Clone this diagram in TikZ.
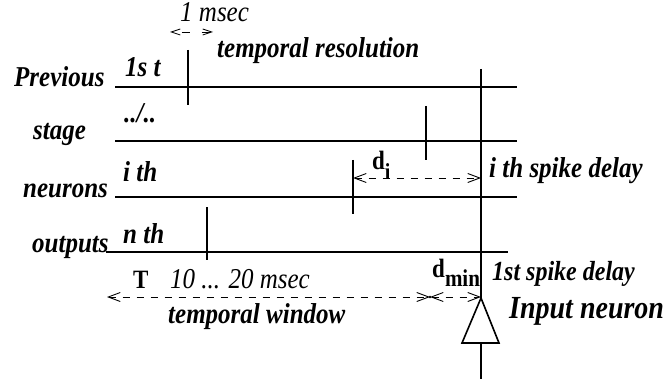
\documentclass[tikz,border=0pt]{standalone}
\usepackage{fontspec}
\setmainfont{Liberation Serif}
\usetikzlibrary{arrows.meta}
\newcommand{\vstretch}[1]{\scalebox{1}[1.15]{#1}}
\begin{document}
\begin{tikzpicture}[x=1pt,y=-1pt,
  lbl/.style={font=\fontsize{25}{30}\selectfont\bfseries\itshape, inner sep=0pt, anchor=base west},
  itl/.style={font=\fontsize{25}{30}\selectfont\itshape, inner sep=0pt, anchor=base west},
  upb/.style={font=\fontsize{23}{28}\selectfont\bfseries, inner sep=0pt, anchor=base west},
  rule/.style={line width=1.8pt},
  spike/.style={line width=1.2pt},
  dimarrow/.style={dash pattern=on 7pt off 7pt, line width=0.9pt,
    {Straight Barb[length=12pt,width=9pt,line width=0.9pt]}-{Straight Barb[length=12pt,width=9pt,line width=0.9pt]}},
  smallarrow/.style={dash pattern=on 8pt off 12pt, dash phase=-10pt, line width=0.8pt,
    {Straight Barb[length=9pt,width=6pt,line width=0.8pt]}-{Straight Barb[length=9pt,width=6pt,line width=0.8pt]}}]
\useasboundingbox (0,0) rectangle (668,379);

% horizontal time lines
\coordinate (a1) at (115,87);  \coordinate (b1) at (517,87);
\coordinate (a2) at (115,141); \coordinate (b2) at (517,141);
\coordinate (a3) at (115,197); \coordinate (b3) at (517,197);
\coordinate (a4) at (106,252); \coordinate (b4) at (508,252);
\draw[rule] (a1) -- (b1);
\draw[rule] (a2) -- (b2);
\draw[rule] (a3) -- (b3);
\draw[rule] (a4) -- (b4);

% main vertical line and input neuron
\coordinate (vtop) at (481,69);
\coordinate (apex) at (481,298);
\coordinate (bl) at (462,343);
\coordinate (br) at (499,343);
\coordinate (bm) at (481,343);
\coordinate (vbot) at (481,379);
\draw[rule] (vtop) -- (apex);
\draw[line width=1.6pt, line join=miter] (apex) -- (bl) -- (br) -- cycle;
\draw[rule] (bm) -- (vbot);

% spikes
\coordinate (s1t) at (188,50);  \coordinate (s1b) at (188,105);
\coordinate (s2t) at (426,106); \coordinate (s2b) at (426,160);
\coordinate (s3t) at (353,160); \coordinate (s3b) at (353,214);
\coordinate (s4t) at (207,207); \coordinate (s4b) at (207,260);
\draw[spike] (s1t) -- (s1b);
\draw[spike] (s2t) -- (s2b);
\draw[spike] (s3t) -- (s3b);
\draw[spike] (s4t) -- (s4b);

% dimension arrows
\coordinate (ms1) at (170,32); \coordinate (ms2) at (213,32);
\draw[smallarrow] (ms1) -- (ms2);
\coordinate (di1) at (353,178); \coordinate (di2) at (481,178);
\draw[dimarrow] (di1) -- (di2);
\coordinate (tw1) at (107,297); \coordinate (tw2) at (430,297); \coordinate (tw3) at (481,297);
\draw[dimarrow] (tw1) -- (tw2);
\draw[dimarrow] (tw2) -- (tw3);
\fill (tw2) circle (1.3pt);

% labels
\node[itl] (msec) at (180,22) {\vstretch{1 msec}};
\node[lbl] (tres) at (217,58) {\vstretch{temporal resolution}};
\node[lbl] (prev) at (14,87) {\vstretch{Previous}};
\node[lbl] (first) at (125,77) {\vstretch{1s t}};
\node[lbl] (dots) at (124,123) {\vstretch{../..}};
\node[lbl] (stage) at (33,140) {\vstretch{stage}};
\node[lbl] (ith) at (123,182) {\vstretch{i th}};
\node[lbl] (neur) at (23,197) {\vstretch{neurons}};
\node[lbl] (nth) at (123,243) {\vstretch{n th}};
\node[lbl] (outp) at (32,252) {\vstretch{outputs}};
\node[upb] (T) at (133,288) {\vstretch{T}};
\node[itl] (range) at (170,288) {\vstretch{10 ... 20 msec}};
\node[lbl] (twin) at (168,323) {\vstretch{temporal window}};
\node[upb] (di) at (372,170) {\vstretch{d\raisebox{-8pt}{\fontsize{20}{24}\selectfont i}}};
\node[lbl] (isd) at (489,178) {\vstretch{i th spike delay}};
\node[upb] (dmin) at (432,277) {\vstretch{d\raisebox{-8pt}{\fontsize{21}{24}\selectfont min}}};
\node[lbl, font=\fontsize{24}{28}\selectfont\bfseries\itshape] (fsd) at (492,280) {\vstretch{1st spike delay}};
\node[lbl, font=\fontsize{28}{32}\selectfont\bfseries\itshape] (inp) at (509,318) {\vstretch{Input neuron}};
\end{tikzpicture}
\end{document}
